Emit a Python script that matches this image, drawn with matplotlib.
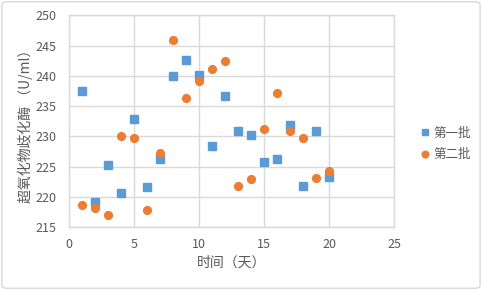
import matplotlib
matplotlib.use("Agg")
from matplotlib import pyplot
from matplotlib.patches import FancyBboxPatch

days = [1, 2, 3, 4, 5, 6, 7, 8, 9, 10, 11, 12, 13, 14, 15, 16, 17, 18, 19, 20]
batch1 = [237.5, 219.2, 225.3, 220.7, 232.8, 221.6, 226.2, 239.9, 242.7, 240.1,
          228.4, 236.7, 230.9, 230.3, 225.8, 226.3, 231.9, 221.8, 230.9, 223.3]
batch2 = [218.6, 218.2, 217.0, 230.0, 229.7, 217.9, 227.3, 246.0, 236.4, 239.2,
          241.1, 242.4, 221.8, 223.0, 231.2, 237.2, 230.9, 229.7, 223.2, 224.3]
labels = ["第一批", "第二批"]
xticks = [0, 5, 10, 15, 20, 25]
yticks = [215, 220, 225, 230, 235, 240, 245, 250]

textcolor = "#595959"
gridcolor = "#D9D9D9"

pyplot.rcParams['font.family'] = ['Noto Sans CJK SC', 'DejaVu Sans']

fig = pyplot.figure(figsize=(4.82, 2.90), dpi=100)
fig.patch.set_facecolor("white")

# chart border like an Excel chart frame
border = FancyBboxPatch((0.004, 0.006), 0.992, 0.988, boxstyle="round,pad=0,rounding_size=0.01",
                        transform=fig.transFigure, facecolor="none", edgecolor=gridcolor, linewidth=1.0)
fig.patches.append(border)

ax = fig.add_axes([69 / 482, 1 - 227.3 / 290, 325 / 482, 212 / 290])
ax.plot(days, batch1, linestyle='none', marker='s', markersize=5.2, color='#5B9BD5', label=labels[0], zorder=3)
ax.plot(days, batch2, linestyle='none', marker='o', markersize=5.6, color='#ED7D31', label=labels[1], zorder=3)

ax.set_xlim(0, 25)
ax.set_ylim(215, 250)
ax.set_xticks(xticks)
ax.set_yticks(yticks)
ax.grid(True, color=gridcolor, linewidth=1.0)
ax.set_axisbelow(True)
for s in ax.spines.values():
    s.set_color(gridcolor)
    s.set_linewidth(1.0)
ax.tick_params("both", length=0, labelsize=9, labelcolor=textcolor)
ax.tick_params("x", pad=8)
ax.tick_params("y", pad=9)

fig.text(231.5 / 482, 1 - 263 / 290, "时间（天）", ha='center', va='center', fontsize=10, color=textcolor)
fig.text(25 / 482, 1 - 123 / 290, "超氧化物歧化酶 （U/ml）", ha='center', va='center', rotation=90,
         fontsize=10, color=textcolor)

leg = fig.legend(loc='center left', bbox_to_anchor=(414 / 482, 1 - 144 / 290), frameon=False,
                 fontsize=9, handlelength=0.7, handletextpad=0.35, labelspacing=0.7, borderpad=0,
                 markerscale=0.85)
for t in leg.get_texts():
    t.set_color(textcolor)

fig.savefig("out.png", dpi=100)
pyplot.close(fig)
